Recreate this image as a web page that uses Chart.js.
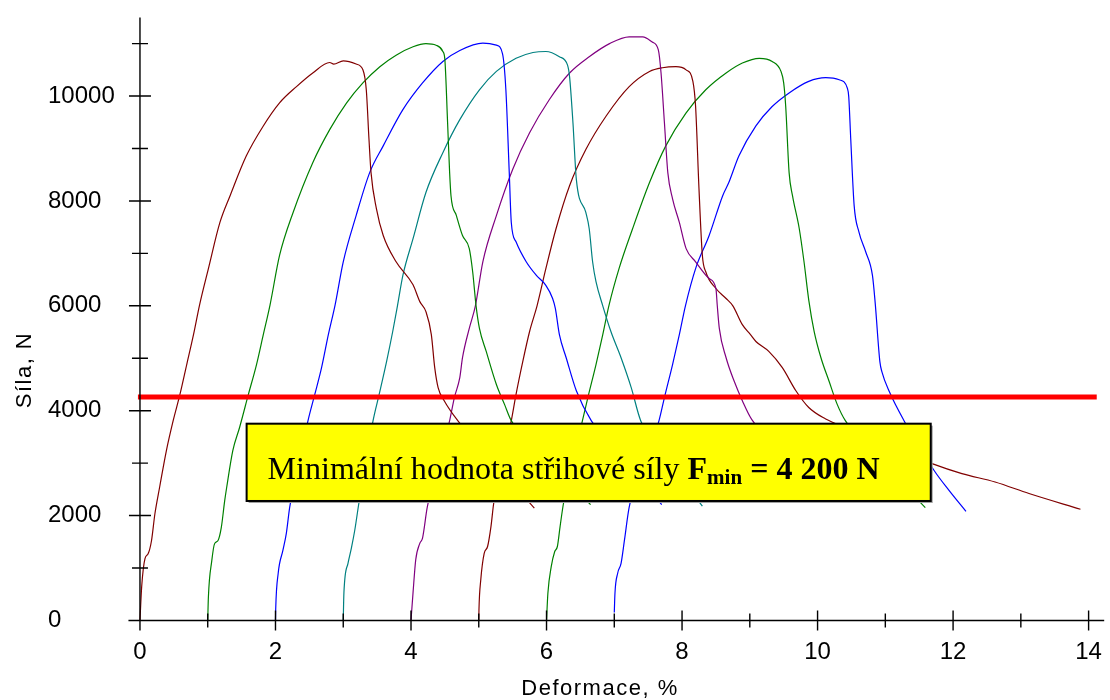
<!DOCTYPE html>
<html lang="cs">
<head>
<meta charset="UTF-8">
<title>Síla – deformace</title>
<style>
  html, body { margin: 0; padding: 0; background: #fff; }
</style>
</head>
<body>
<canvas id="myChart" width="1110" height="700"></canvas>
<script src="https://cdn.jsdelivr.net/npm/chart.js@4.4.1/dist/chart.umd.min.js"></script>
<script>
// osa x - deformace [%], osa y - sila [N], jedna dvojice poli na kazdy vzorek
var def1 = [0, 0.025, 0.074, 0.12, 0.17, 0.22, 0.29, 0.39, 0.49, 0.59, 0.69, 0.79, 0.88, 1.01, 1.18, 1.33, 1.57, 1.82, 2.06, 2.31, 2.55, 2.80, 2.86, 3.0, 3.19, 3.29, 3.34, 3.38, 3.41, 3.49, 3.59, 3.78, 4.03, 4.13, 4.22, 4.30, 4.35, 4.40, 4.49, 4.69, 5.82];
var sila1 = [0, 640, 1180, 1270, 1520, 2030, 2540, 3240, 3810, 4310, 4880, 5450, 6020, 6710, 7590, 8100, 8860, 9430, 9870, 10180, 10440, 10640, 10610, 10670, 10610, 10500, 10120, 9170, 8540, 7850, 7340, 6840, 6400, 6080, 5890, 5450, 4820, 4440, 4190, 3810, 2140];

var def2 = [1.0, 1.01, 1.06, 1.10, 1.15, 1.20, 1.25, 1.28, 1.37, 1.47, 1.60, 1.72, 1.82, 1.92, 2.06, 2.26, 2.55, 2.80, 3.05, 3.29, 3.54, 3.78, 4.03, 4.22, 4.37, 4.47, 4.50, 4.54, 4.57, 4.59, 4.67, 4.76, 4.86, 4.91, 4.96, 5.01, 5.11, 5.26, 5.38, 5.48, 6.65];
var sila2 = [0, 450, 1140, 1460, 1520, 1770, 2280, 2540, 3240, 3680, 4310, 4880, 5450, 6020, 6960, 7780, 8730, 9360, 9870, 10250, 10560, 10780, 10940, 11000, 10970, 10850, 10690, 9490, 8540, 8100, 7720, 7340, 7090, 6650, 6000, 5570, 5130, 4500, 4120, 3810, 2210];

var def3 = [2.0, 2.003, 2.04, 2.11, 2.16, 2.21, 2.48, 2.58, 2.68, 2.78, 2.88, 3.0, 3.19, 3.39, 3.59, 3.88, 4.17, 4.47, 4.72, 5.06, 5.26, 5.35, 5.40, 5.45, 5.48, 5.55, 5.70, 5.85, 5.99, 6.09, 6.13, 6.19, 6.29, 6.44, 6.66, 7.70];
var sila3 = [0, 210, 900, 1340, 1660, 2160, 3810, 4310, 4820, 5450, 6020, 6840, 7720, 8540, 9050, 9740, 10250, 10660, 10870, 11010, 10970, 10810, 10120, 8540, 7590, 7220, 6840, 6580, 6390, 6140, 5950, 5450, 5010, 4380, 3810, 2210];

var def4 = [3.0, 3.01, 3.07, 3.12, 3.17, 3.23, 3.44, 3.53, 3.64, 3.73, 3.80, 3.88, 4.03, 4.22, 4.47, 4.72, 5.01, 5.26, 5.55, 5.80, 5.99, 6.19, 6.31, 6.34, 6.39, 6.44, 6.58, 6.63, 6.68, 6.73, 6.83, 6.95, 7.10, 7.25, 7.39, 8.30];
var sila4 = [0, 530, 1090, 1380, 1720, 2230, 3810, 4310, 4940, 5510, 6000, 6580, 7280, 8160, 8920, 9550, 10120, 10470, 10720, 10830, 10850, 10750, 10590, 10370, 9490, 8410, 7780, 7470, 6840, 6460, 6000, 5510, 5010, 4440, 3810, 2180];

var def5 = [4.0, 4.03, 4.07, 4.13, 4.17, 4.24, 4.57, 4.64, 4.72, 4.76, 4.86, 4.95, 5.06, 5.26, 5.50, 5.75, 6.04, 6.34, 6.63, 6.93, 7.22, 7.42, 7.56, 7.65, 7.69, 7.74, 7.79, 7.86, 7.96, 8.06, 8.20, 8.40, 8.50, 8.52, 8.55, 8.65, 8.77, 8.89, 9.03, 10.32];
var sila5 = [0, 530, 1160, 1470, 1570, 2160, 3810, 4250, 4630, 5010, 5570, 6000, 6840, 7720, 8600, 9300, 9930, 10440, 10750, 11000, 11130, 11130, 11030, 10880, 10440, 9490, 8540, 8040, 7590, 7090, 6840, 6520, 6330, 6000, 5570, 5010, 4560, 4190, 3830, 2260];

var def6 = [5.0, 5.003, 5.03, 5.08, 5.13, 5.18, 5.22, 5.48, 5.55, 5.65, 5.75, 5.86, 5.99, 6.14, 6.34, 6.58, 6.88, 7.22, 7.52, 7.71, 7.91, 8.06, 8.16, 8.20, 8.25, 8.30, 8.35, 8.50, 8.65, 8.75, 8.89, 9.01, 9.09, 9.28, 9.48, 9.68, 9.87, 10.12, 10.22, 11.69, 12.13, 12.62, 13.12, 13.88];
var sila6 = [0, 210, 780, 1280, 1410, 1790, 2230, 3810, 4310, 4940, 5510, 6000, 6710, 7470, 8290, 8980, 9620, 10180, 10470, 10540, 10560, 10500, 10280, 9800, 8230, 6960, 6650, 6330, 6140, 6000, 5640, 5450, 5320, 5130, 4820, 4380, 4060, 3840, 3780, 2990, 2800, 2640, 2420, 2120];

var def7 = [6.0, 6.02, 6.07, 6.12, 6.16, 6.20, 6.25, 6.53, 6.61, 6.73, 6.83, 6.92, 7.07, 7.27, 7.52, 7.76, 8.06, 8.35, 8.65, 8.89, 9.14, 9.33, 9.46, 9.50, 9.53, 9.58, 9.63, 9.73, 9.80, 9.87, 9.95, 10.05, 10.17, 10.29, 10.41, 11.59];
var sila7 = [0, 520, 1030, 1310, 1410, 1790, 2230, 3810, 4250, 4880, 5450, 6000, 6710, 7470, 8350, 9050, 9680, 10120, 10440, 10630, 10720, 10660, 10470, 10250, 9800, 8540, 8100, 7470, 6840, 6110, 5510, 5010, 4560, 4120, 3810, 2150];

var def8 = [7.0, 7.01, 7.05, 7.10, 7.15, 7.22, 7.66, 7.74, 7.86, 7.96, 8.05, 8.20, 8.40, 8.60, 8.69, 8.84, 9.09, 9.33, 9.58, 9.87, 10.12, 10.32, 10.44, 10.46, 10.49, 10.54, 10.61, 10.71, 10.81, 10.85, 10.92, 10.95, 11.06, 11.28, 11.72, 11.94, 12.19];
var sila8 = [150, 520, 900, 1090, 1530, 2160, 3810, 4250, 4880, 5450, 6000, 6710, 7340, 8100, 8350, 8860, 9430, 9800, 10060, 10280, 10350, 10310, 10150, 9990, 9170, 7910, 7410, 7030, 6580, 6060, 4930, 4740, 4360, 3800, 2860, 2480, 2080];

var barvy = ['#800000', '#008000', '#0000ff', '#008080', '#800080', '#800000', '#008000', '#0000ff'];

// cervena cara minimalni sily
var minLineX = [-0.03, 14.12];
var minLineY = 4260;

var xTicks = [0, 2, 4, 6, 8, 10, 12, 14];
var yTicks = [0, 2000, 4000, 6000, 8000, 10000];

var xTitle = 'Deformace, %';
var yTitle = 'Síla, N';

// obdelnik s popisem (v jednotkach grafu)
var ramecek = { x1: 1.574, x2: 11.67, y1: 2278, y2: 3752 };

function body(xs, ys) {
    var out = [];
    for (var i = 0; i < xs.length; i++) {
        out.push({ x: xs[i], y: ys[i] });
    }
    return out;
}

var defs = [def1, def2, def3, def4, def5, def6, def7, def8];
var sily = [sila1, sila2, sila3, sila4, sila5, sila6, sila7, sila8];

var datasets = [{
    data: body(minLineX, [minLineY, minLineY]),
    borderColor: '#ff0000',
    borderWidth: 5,
    order: 0
}];
for (var k = 0; k < defs.length; k++) {
    datasets.push({
        data: body(defs[k], sily[k]),
        borderColor: barvy[k],
        borderWidth: 1.2,
        cubicInterpolationMode: 'monotone',
        order: 1
    });
}

var osyPlugin = {
    id: 'osy',
    afterDatasetsDraw: function (chart) {
        var ctx = chart.ctx;
        var xs = chart.scales.x, ys = chart.scales.y;
        var area = chart.chartArea;
        var x0 = xs.getPixelForValue(0);
        var y0 = ys.getPixelForValue(0);

        ctx.save();
        ctx.strokeStyle = '#000';
        ctx.lineWidth = 1.4;
        ctx.beginPath();
        ctx.moveTo(area.left, y0);
        ctx.lineTo(area.right, y0);
        ctx.moveTo(x0, area.top);
        ctx.lineTo(x0, area.bottom);
        for (var v = 0; v <= 14; v++) {
            var p = xs.getPixelForValue(v);
            var h = v % 2 === 0 ? 10 : 7;
            ctx.moveTo(p, y0 - h);
            ctx.lineTo(p, y0 + h);
        }
        for (var w = 0; w <= 11000; w += 1000) {
            var q = ys.getPixelForValue(w);
            var d = w % 2000 === 0 ? 11 : 8;
            ctx.moveTo(x0 - d, q);
            ctx.lineTo(x0 + d, q);
        }
        ctx.stroke();

        // ramecek s textem
        var bx1 = xs.getPixelForValue(ramecek.x1);
        var bx2 = xs.getPixelForValue(ramecek.x2);
        var by1 = ys.getPixelForValue(ramecek.y2);
        var by2 = ys.getPixelForValue(ramecek.y1);
        ctx.fillStyle = '#a0a0a0';
        ctx.fillRect(bx1 + 2, by1 + 2, bx2 - bx1, by2 - by1);
        ctx.fillStyle = '#ffff00';
        ctx.fillRect(bx1, by1, bx2 - bx1, by2 - by1);
        ctx.lineWidth = 2;
        ctx.strokeStyle = '#000';
        ctx.strokeRect(bx1, by1, bx2 - bx1, by2 - by1);

        var casti = [
            { t: 'Minimální hodnota střihové síly ', f: '32px "Liberation Serif"', dy: 0 },
            { t: 'F', f: 'bold 32px "Liberation Serif"', dy: 0 },
            { t: 'min', f: 'bold 21px "Liberation Serif"', dy: 5 },
            { t: ' = 4 200 N', f: 'bold 32px "Liberation Serif"', dy: 0 }
        ];
        var celkem = 0;
        casti.forEach(function (c) {
            ctx.font = c.f;
            c.w = ctx.measureText(c.t).width;
            celkem += c.w;
        });
        var sx = 612 / celkem;
        ctx.translate(bx1 + 21, by1 + 55);
        ctx.scale(sx, 1);
        ctx.fillStyle = '#000';
        ctx.textBaseline = 'alphabetic';
        ctx.textAlign = 'left';
        var pos = 0;
        casti.forEach(function (c) {
            ctx.font = c.f;
            ctx.fillText(c.t, pos, c.dy);
            pos += c.w;
        });
        ctx.restore();
    },
    afterDraw: function (chart) {
        var ctx = chart.ctx;
        ctx.save();
        ctx.fillStyle = '#000';
        ctx.font = '22px "Liberation Sans"';
        ctx.letterSpacing = '1.5px';
        ctx.textAlign = 'center';
        ctx.textBaseline = 'middle';
        ctx.fillText(xTitle, 600, 689);
        ctx.translate(25, 370);
        ctx.rotate(-Math.PI / 2);
        ctx.fillText(yTitle, 0, 0);
        ctx.restore();
    }
};

var myChart = document.getElementById('myChart').getContext('2d');

var chart = new Chart(myChart, {
    type: 'scatter',
    data: { datasets: datasets },
    options: {
        responsive: false,
        animation: false,
        showLine: true,
        elements: {
            point: { radius: 0, hoverRadius: 0 },
            line: { tension: 0 }
        },
        layout: { padding: { left: 48, top: 12, right: 3, bottom: 0 } },
        plugins: {
            legend: { display: false },
            tooltip: { enabled: false }
        },
        scales: {
            x: {
                type: 'linear',
                min: -0.17,
                max: 14.23,
                grid: { display: false, drawTicks: false },
                border: { display: false },
                afterBuildTicks: function (scale) {
                    scale.ticks = xTicks.map(function (v) { return { value: v }; });
                },
                afterFit: function (scale) { scale.height = 69.6; },
                ticks: {
                    padding: 8,
                    maxRotation: 0,
                    color: '#000',
                    font: { family: 'Liberation Sans', size: 24 },
                    callback: function (v) { return String(v); }
                }
            },
            y: {
                type: 'linear',
                min: -190,
                max: 11500,
                grid: { display: false, drawTicks: false },
                border: { display: false },
                afterBuildTicks: function (scale) {
                    scale.ticks = yTicks.map(function (v) { return { value: v }; });
                },
                afterFit: function (scale) { scale.width = 80.45; },
                ticks: {
                    crossAlign: 'far',
                    color: '#000',
                    font: { family: 'Liberation Sans', size: 24 },
                    callback: function (v) { return String(v); }
                }
            }
        }
    },
    plugins: [osyPlugin]
});
</script>
</body>
</html>
